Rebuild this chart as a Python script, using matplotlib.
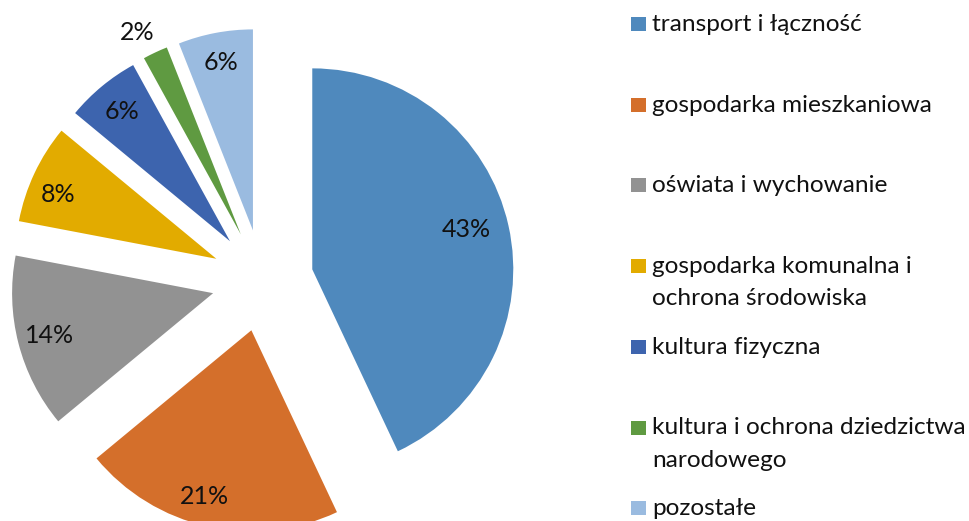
import matplotlib
matplotlib.use("Agg")
import matplotlib.pyplot as plt
from matplotlib.patches import Rectangle
import numpy as np

categories = [
    "transport i łączność",
    "gospodarka mieszkaniowa",
    "oświata i wychowanie",
    "gospodarka komunalna i\nochrona środowiska",
    "kultura fizyczna",
    "kultura i ochrona dziedzictwa\nnarodowego",
    "pozostałe",
]
shares = [43, 21, 14, 8, 6, 2, 6]
colors = ["#4F89BD", "#D46F2B", "#929292", "#E2AB00", "#3D64AE", "#5F9A41", "#9ABBE0"]

W, H = 970, 521
plt.rcParams['font.family'] = ['Lato', 'DejaVu Sans']
fig = plt.figure(figsize=(W / 100, H / 100), dpi=100)
ax = fig.add_axes([0, 0, 1, 1])

radius = 201
explode_px = 51
wedges, texts, autotexts = ax.pie(
    shares, colors=colors, startangle=90, counterclock=False,
    center=(262.5, H - 280.5), radius=radius,
    explode=[explode_px] * len(shares),
    autopct=lambda p: f"{p:.0f}%", pctdistance=0.84,
    textprops=dict(fontsize=18, color="#111111"),
    wedgeprops=dict(linewidth=0),
)
# label placement (fraction of radius from each wedge apex, angular shift in degrees)
label_pos = [(0.79, 2), (0.86, -3), (0.84, 0), (0.85, 3), (0.84, 0), (1.13, 2), (0.85, 0)]
for w, t, (d, sh) in zip(wedges, autotexts, label_pos):
    cx, cy = w.center
    th = np.deg2rad((w.theta1 + w.theta2) / 2 + sh)
    t.set_position((cx + d * radius * np.cos(th), cy + d * radius * np.sin(th)))

ax.set_xlim(0, W)
ax.set_ylim(0, H)
ax.set_aspect('equal')
ax.axis('off')

# legend
y0, dy = 24, 80.7
for i, (lab, col) in enumerate(zip(categories, colors)):
    yc = H - (y0 + i * dy)
    ax.add_patch(Rectangle((631, yc - 7), 15, 14, facecolor=col, edgecolor='none'))
    ax.text(652, yc + 10, lab, fontsize=17.6, color="#111111", va='top', ha='left',
            linespacing=1.65)

fig.savefig("out.png", dpi=100)
